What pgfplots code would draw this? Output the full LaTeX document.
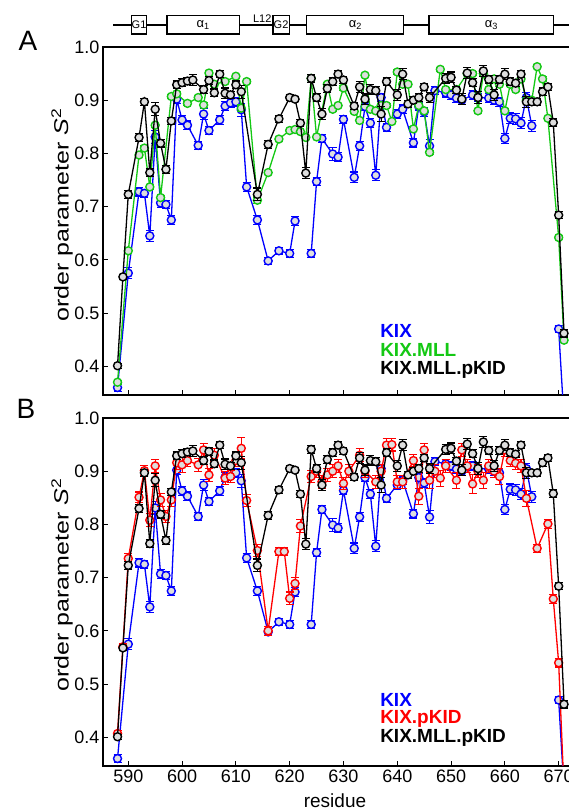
\documentclass[border=0pt]{standalone}
\usepackage{pgfplots}
\usepackage{pgfplotstable}
\pgfplotsset{compat=1.18}
\usepackage{fontspec}
\setmainfont{Liberation Sans}

\definecolor{kixblue}{RGB}{0,0,255}
\definecolor{mllgreen}{RGB}{20,200,20}
\definecolor{pkidred}{RGB}{255,0,0}
\definecolor{mfill}{RGB}{222,222,222}

% residue, S2, error
\pgfplotstableread{
x y e
588 0.360 0.008
590 0.575 0.010
592 0.728 0.008
593 0.725 0.008
594 0.645 0.010
595 0.831 0.012
596 0.707 0.008
597 0.704 0.008
598 0.675 0.008
599 0.902 0.008
600 0.863 0.008
601 0.853 0.008
603 0.815 0.008
604 0.874 0.010
605 0.843 0.008
607 0.863 0.008
608 0.889 0.008
609 0.895 0.008
610 0.897 0.008
611 0.882 0.012
612 0.737 0.008
614 0.675 0.008
616 0.598 0.006
618 0.617 0.006
620 0.612 0.008
621 0.673 0.008
nan nan nan
624 0.612 0.008
625 0.747 0.008
626 0.828 0.008
628 0.799 0.012
629 0.793 0.008
630 0.864 0.008
632 0.755 0.010
633 0.814 0.008
634 0.888 0.008
635 0.857 0.008
636 0.759 0.010
637 0.905 0.008
638 0.849 0.008
640 0.874 0.008
641 0.883 0.008
643 0.820 0.008
644 0.888 0.008
645 0.878 0.008
646 0.814 0.012
647 0.918 0.008
649 0.914 0.008
650 0.910 0.008
651 0.904 0.008
652 0.900 0.008
654 0.910 0.008
655 0.905 0.008
657 0.904 0.008
658 0.900 0.008
659 0.897 0.008
660 0.828 0.010
661 0.866 0.010
662 0.865 0.010
663 0.857 0.010
664 0.905 0.010
665 0.852 0.010
nan nan nan
670 0.470 0.006
671 0.300 0.006
}\kix

\pgfplotstableread{
x y e
588 0.370 0.004
590 0.617 0.004
592 0.797 0.004
593 0.810 0.004
594 0.737 0.004
595 0.853 0.004
596 0.717 0.004
598 0.907 0.004
599 0.912 0.004
601 0.894 0.004
603 0.905 0.004
604 0.891 0.004
605 0.951 0.004
606 0.930 0.004
608 0.935 0.004
610 0.945 0.004
611 0.885 0.006
612 0.935 0.004
614 0.712 0.006
616 0.764 0.004
618 0.827 0.004
620 0.843 0.004
621 0.845 0.004
622 0.841 0.004
623 0.830 0.004
624 0.941 0.004
625 0.831 0.004
627 0.930 0.004
628 0.883 0.004
629 0.890 0.004
630 0.923 0.004
632 0.879 0.004
633 0.862 0.004
634 0.947 0.004
635 0.883 0.004
636 0.880 0.004
637 0.890 0.004
638 0.890 0.004
639 0.860 0.004
640 0.953 0.004
641 0.930 0.004
642 0.930 0.004
643 0.846 0.004
644 0.890 0.004
645 0.880 0.004
646 0.802 0.004
648 0.958 0.004
649 0.920 0.004
651 0.920 0.004
653 0.950 0.004
654 0.950 0.004
655 0.880 0.004
656 0.950 0.004
657 0.920 0.004
658 0.940 0.004
659 0.930 0.004
660 0.880 0.004
661 0.930 0.004
662 0.920 0.004
663 0.940 0.004
664 0.900 0.004
665 0.900 0.004
666 0.963 0.004
667 0.940 0.004
668 0.866 0.004
670 0.642 0.004
671 0.449 0.004
}\kixmll

\pgfplotstableread{
x y e
588 0.401 0.005
589 0.568 0.005
590 0.723 0.007
592 0.830 0.007
593 0.897 0.007
594 0.764 0.007
595 0.883 0.012
596 0.819 0.007
597 0.770 0.007
598 0.861 0.007
599 0.929 0.007
600 0.933 0.007
601 0.936 0.007
602 0.938 0.010
604 0.920 0.007
605 0.937 0.007
606 0.914 0.007
607 0.949 0.007
608 0.913 0.010
609 0.910 0.007
610 0.929 0.007
611 0.916 0.012
614 0.723 0.012
616 0.817 0.007
618 0.865 0.007
620 0.905 0.005
621 0.902 0.005
622 0.857 0.007
623 0.763 0.010
624 0.941 0.007
625 0.905 0.007
626 0.874 0.010
627 0.922 0.007
628 0.935 0.007
629 0.949 0.007
630 0.938 0.007
632 0.889 0.007
633 0.925 0.010
634 0.902 0.010
635 0.920 0.010
636 0.918 0.007
637 0.874 0.014
638 0.935 0.007
640 0.910 0.010
641 0.949 0.010
642 0.893 0.007
643 0.900 0.007
644 0.905 0.007
645 0.925 0.007
646 0.905 0.010
649 0.941 0.010
650 0.943 0.010
651 0.919 0.007
652 0.902 0.010
653 0.951 0.010
654 0.933 0.007
655 0.905 0.012
656 0.955 0.010
657 0.939 0.007
658 0.910 0.010
659 0.939 0.007
660 0.949 0.010
661 0.935 0.007
662 0.932 0.007
663 0.949 0.007
664 0.897 0.010
665 0.897 0.007
666 0.897 0.007
667 0.916 0.007
668 0.925 0.007
669 0.858 0.007
670 0.684 0.007
671 0.462 0.007
}\kixmllpkid

\pgfplotstableread{
x y e
588 0.407 0.006
589 0.570 0.006
590 0.736 0.010
592 0.851 0.010
593 0.901 0.010
594 0.808 0.012
595 0.910 0.012
596 0.846 0.012
597 0.815 0.012
598 0.846 0.012
599 0.916 0.012
600 0.912 0.015
601 0.920 0.012
603 0.912 0.012
604 0.940 0.012
605 0.893 0.012
606 0.930 0.012
608 0.887 0.012
609 0.890 0.012
610 0.920 0.012
611 0.943 0.020
612 0.845 0.012
614 0.751 0.012
616 0.600 0.008
618 0.749 0.008
619 0.749 0.008
620 0.661 0.012
621 0.689 0.012
622 0.797 0.012
624 0.890 0.012
625 0.900 0.012
626 0.880 0.012
627 0.893 0.012
628 0.900 0.012
629 0.910 0.012
630 0.877 0.012
631 0.900 0.012
633 0.930 0.012
634 0.900 0.012
636 0.880 0.012
637 0.900 0.012
638 0.949 0.012
639 0.950 0.012
640 0.880 0.012
641 0.880 0.012
643 0.920 0.012
644 0.853 0.015
645 0.940 0.012
646 0.883 0.015
647 0.900 0.012
648 0.887 0.015
649 0.910 0.012
651 0.883 0.015
652 0.940 0.012
653 0.910 0.012
654 0.876 0.018
655 0.900 0.012
656 0.883 0.015
657 0.910 0.012
658 0.900 0.012
659 0.890 0.015
660 0.940 0.012
661 0.920 0.012
662 0.915 0.012
663 0.910 0.012
664 0.849 0.015
666 0.755 0.008
668 0.801 0.008
669 0.660 0.008
670 0.540 0.008
671 0.300 0.008
}\kixpkid

\pgfplotsset{
  s2axis/.style={
    scale only axis, width=471.8pt, height=348pt,
    xmin=585.3, xmax=673, ymin=0.346, ymax=1.0,
    xtick={590,600,610,620,630,640,650,660,670},
    ytick={0.4,0.5,0.6,0.7,0.8,0.9,1.0},
    tick pos=left, tick align=inside, major tick length=5pt,
    axis line style={line width=2pt},
    tick style={line width=0.8pt, black},
    ticklabel style={font=\fontsize{18}{20}\selectfont},
    /pgf/number format/assume math mode=true,
    yticklabel style={/pgf/number format/.cd, fixed, fixed zerofill, precision=1},
    unbounded coords=jump,
    clip mode=individual,
  },
  s2plot/.style={
    color=#1, line width=1.3pt, mark=*, mark size=4pt,
    mark options={fill=mfill, draw=#1, line width=1.4pt, solid},
    error bars/.cd, y dir=both, y explicit,
    error bar style={line width=1.1pt, #1},
    error mark=-,
    error mark options={rotate=90, #1, mark size=4pt, line width=1.1pt},
  },
}

\begin{document}
\begin{tikzpicture}
\useasboundingbox (0,0) rectangle (569pt,811pt);
\clip (0,0) rectangle (569pt,811pt);

% panel A
\begin{axis}[s2axis, at={(103pt,764pt)}, anchor=north west, xticklabels={}]
\addplot[s2plot=kixblue] table[x=x, y=y, y error=e] {\kix};
\addplot[s2plot=mllgreen] table[x=x, y=y, y error=e] {\kixmll};
\addplot[s2plot=black] table[x=x, y=y, y error=e] {\kixmllpkid};
\node[anchor=west, font=\fontsize{19}{21}\selectfont\bfseries, text=kixblue, inner sep=0pt] at (axis cs:636.8,0.466) {KIX};
\node[anchor=west, font=\fontsize{19}{21}\selectfont\bfseries, text=mllgreen, inner sep=0pt] at (axis cs:636.8,0.430) {KIX.MLL};
\node[anchor=west, font=\fontsize{19}{21}\selectfont\bfseries, text=black, inner sep=0pt] at (axis cs:636.8,0.394) {KIX.MLL.pKID};
% secondary structure
\draw[line width=2pt] (axis cs:587.2,1.0414) -- (axis cs:673,1.0414);
\draw[line width=1.1pt, fill=white] (axis cs:590.6,1.0245) rectangle node[font=\fontsize{11}{12}\selectfont] {G1} (axis cs:593.4,1.0584);
\draw[line width=1.1pt, fill=white] (axis cs:597.2,1.0245) rectangle node[font=\fontsize{13}{14}\selectfont] {α\textsubscript{1}} (axis cs:610.6,1.0584);
\draw[line width=1.1pt, fill=white] (axis cs:616.9,1.0245) rectangle node[font=\fontsize{11}{12}\selectfont] {G2} (axis cs:619.9,1.0584);
\draw[line width=1.1pt, fill=white] (axis cs:623.2,1.0245) rectangle node[font=\fontsize{13}{14}\selectfont] {α\textsubscript{2}} (axis cs:641.2,1.0584);
\draw[line width=1.1pt, fill=white] (axis cs:645.9,1.0245) rectangle node[font=\fontsize{13}{14}\selectfont] {α\textsubscript{3}} (axis cs:669.1,1.0584);
\node[anchor=south, font=\fontsize{11}{12}\selectfont, inner sep=1pt] at (axis cs:614.9,1.0430) {L12};
\end{axis}

% panel B
\begin{axis}[s2axis, at={(103pt,393pt)}, anchor=north west]
\addplot[s2plot=kixblue] table[x=x, y=y, y error=e] {\kix};
\addplot[s2plot=pkidred] table[x=x, y=y, y error=e] {\kixpkid};
\addplot[s2plot=black] table[x=x, y=y, y error=e] {\kixmllpkid};
\node[anchor=west, font=\fontsize{19}{21}\selectfont\bfseries, text=kixblue, inner sep=0pt] at (axis cs:636.8,0.470) {KIX};
\node[anchor=west, font=\fontsize{19}{21}\selectfont\bfseries, text=pkidred, inner sep=0pt] at (axis cs:636.8,0.434) {KIX.pKID};
\node[anchor=west, font=\fontsize{19}{21}\selectfont\bfseries, text=black, inner sep=0pt] at (axis cs:636.8,0.398) {KIX.MLL.pKID};
\end{axis}

% labels
\node[font=\fontsize{28}{30}\selectfont] at (28pt,770pt) {A};
\node[font=\fontsize{28}{30}\selectfont] at (26pt,402pt) {B};
\node[rotate=90, xscale=1.25, font=\fontsize{20}{24}\selectfont] at (62pt,596pt) {order parameter \textit{S}\textsuperscript{2}};
\node[rotate=90, xscale=1.25, font=\fontsize{20}{24}\selectfont] at (62pt,226pt) {order parameter \textit{S}\textsuperscript{2}};
\node[anchor=base, font=\fontsize{19}{21}\selectfont] at (335pt,4pt) {residue};
\end{tikzpicture}
\end{document}
